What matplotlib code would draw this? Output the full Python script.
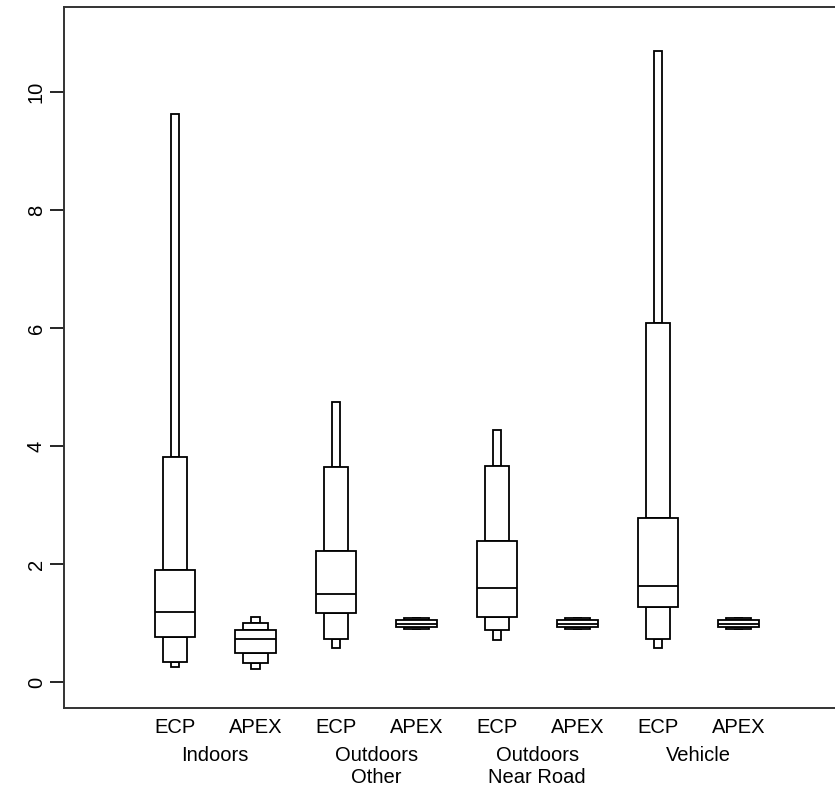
import numpy as np
import matplotlib.pyplot as plt

plt.rcParams['font.family'] = ['Liberation Sans', 'DejaVu Sans']

# percentile levels per box: outer low, mid low, q1, median, q3, mid high, outer high
groups = ["Indoors", "Outdoors\nOther", "Outdoors\nNear Road", "Vehicle"]
sources = ["ECP", "APEX"] * 4
lo2 = [0.26, 0.22, 0.57, 0.90, 0.71, 0.90, 0.57, 0.90]
lo1 = [0.34, 0.33, 0.735, 0.90, 0.88, 0.90, 0.725, 0.90]
q1 = [0.764, 0.49, 1.17, 0.94, 1.11, 0.94, 1.27, 0.94]
med = [1.19, 0.725, 1.50, 0.99, 1.60, 0.99, 1.63, 0.99]
q3 = [1.90, 0.88, 2.22, 1.043, 2.39, 1.043, 2.78, 1.043]
hi1 = [3.82, 1.00, 3.64, 1.083, 3.66, 1.083, 6.09, 1.083]
hi2 = [9.62, 1.11, 4.75, 1.083, 4.27, 1.083, 10.70, 1.083]

pos = np.arange(1, 9)
lo2, lo1, q1, med, q3, hi1, hi2 = map(np.array, (lo2, lo1, q1, med, q3, hi1, hi2))

fig = plt.figure(figsize=(8.35, 7.88), dpi=100)
ax = fig.add_axes([64 / 835, 80 / 788, (845 - 64) / 835, 701 / 788])

lw = 1.3
style = dict(facecolor="white", edgecolor="black", linewidth=lw, align="center")
# narrow tails
ax.bar(pos, hi2 - hi1, bottom=hi1, width=0.1, **style)
ax.bar(pos, lo1 - lo2, bottom=lo2, width=0.1, **style)
# middle boxes
ax.bar(pos, hi1 - q3, bottom=q3, width=0.3, **style)
ax.bar(pos, q1 - lo1, bottom=lo1, width=0.3, **style)
# central box
ax.bar(pos, q3 - q1, bottom=q1, width=0.5, **style)
ax.hlines(med, pos - 0.25, pos + 0.25, color="black", linewidth=lw)

ax.set_xlim(-0.379, 9.323)
ax.set_ylim(-0.44, 11.44)

ax.set_yticks([0, 2, 4, 6, 8, 10])
ax.tick_params(axis="y", length=10, width=1.2, labelsize=14.5, pad=3, labelrotation=90)
for lab in ax.get_yticklabels():
    lab.set_va("center")

ax.set_xticks(pos, sources)
ax.tick_params(axis="x", length=0, labelsize=14.5, pad=7)

for i, g in enumerate(groups):
    ax.text(pos[2 * i] + 0.5, -0.054, g, transform=ax.get_xaxis_transform(),
            ha="center", va="top", fontsize=14.5, linespacing=1.2)

for sp in ax.spines.values():
    sp.set_linewidth(1.4)
    sp.set_color("#333333")

fig.savefig("out.png", dpi=100)
